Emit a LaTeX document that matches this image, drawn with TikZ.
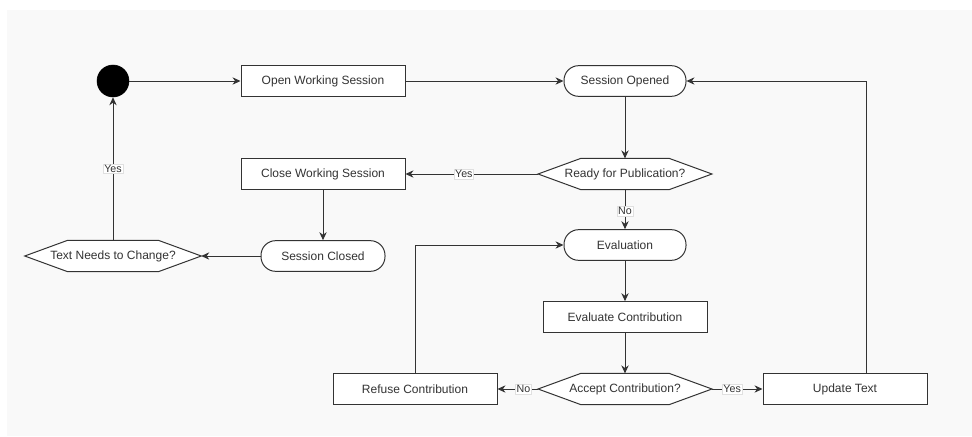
\documentclass[tikz,border=0pt]{standalone}
\usepackage{fontspec}
\setmainfont{Liberation Sans}
\usetikzlibrary{arrows.meta,backgrounds}

\definecolor{pagebg}{HTML}{F9F9F9}
\definecolor{ink}{HTML}{333333}

\tikzset{
  every node/.style={font=\fontsize{9}{11}\selectfont, text=ink},
  action/.style={draw=ink, fill=white, line width=0.75pt, minimum width=123pt, minimum height=23pt, inner sep=0pt},
  state/.style={draw=ink, fill=white, line width=0.75pt, rounded corners=11pt, minimum height=23pt, inner sep=0pt},
  decision/.style={rectangle, minimum height=23pt, inner sep=0pt},
  hexa/.style={draw=ink, fill=white, line width=0.75pt, line join=miter},
  start/.style={circle, fill=black, draw=black, minimum size=24pt, inner sep=0pt},
  flow/.style={draw=ink, line width=0.75pt, -{Stealth[length=6pt,width=5.5pt]}},
  tag/.style={font=\fontsize{8}{9}\selectfont, fill=white, draw=black!12, line width=0.4pt, inner sep=0.8pt}
}

% hexagon outline round a decision node
\newcommand{\hexaround}[1]{%
  \draw[hexa] (#1.west) -- ([xshift=32pt]#1.north west) -- ([xshift=-32pt]#1.north east)
    -- (#1.east) -- ([xshift=-32pt]#1.south east) -- ([xshift=32pt]#1.south west) -- cycle;}

\begin{document}
\begin{tikzpicture}[x=0.75pt,y=-0.75pt]
    \useasboundingbox (0,0) rectangle (972,436);

    \node[start] (init) at (113,81) {};
    \node[action] (open) at (323,81) {Open Working Session};
    \node[state, minimum width=91.5pt] (opened) at (625,81) {Session Opened};
    \node[decision, minimum width=130pt] (ready) at (625,174) {Ready for Publication?};
    \node[action] (close) at (323,174) {Close Working Session};
    \node[state, minimum width=93pt] (closed) at (323,256) {Session Closed};
    \node[decision, minimum width=132pt] (change) at (113,256) {Text Needs to Change?};
    \node[state, minimum width=91.5pt] (eval) at (625,245) {Evaluation};
    \node[action] (evalc) at (625,317) {Evaluate Contribution};
    \node[decision, minimum width=130pt] (accept) at (625,389) {Accept Contribution?};
    \node[action] (refuse) at (415,389) {Refuse Contribution};
    \node[action] (update) at (845,389) {Update Text};

    \begin{pgfonlayer}{background}
        \fill[white] (0,0) rectangle (972,436);
        \fill[pagebg] (7,10) rectangle (972,436);
        \hexaround{ready}
        \hexaround{change}
        \hexaround{accept}
    \end{pgfonlayer}

    \draw[flow] (init) -- (open);
    \draw[flow] (open) -- (opened);
    \draw[flow] (opened) -- (ready);
    \draw[flow] (ready) -- node[tag, pos=0.56] {Yes} (close);
    \draw[flow] (ready) -- node[tag, pos=0.55] {No} (eval);
    \draw[flow] (close) -- (closed);
    \draw[flow] (closed) -- (change);
    \draw[flow] (change) -- node[tag] {Yes} (init);
    \draw[flow] (eval) -- (evalc);
    \draw[flow] (evalc) -- (accept);
    \draw[flow] (accept) -- node[tag, pos=0.36] {No} (refuse);
    \draw[flow] (accept) -- node[tag, pos=0.4] {Yes} (update);
    \draw[flow] (refuse) |- (eval);
    \draw[flow] ([xshift=15.75pt]update.north) |- (opened);
\end{tikzpicture}
\end{document}
